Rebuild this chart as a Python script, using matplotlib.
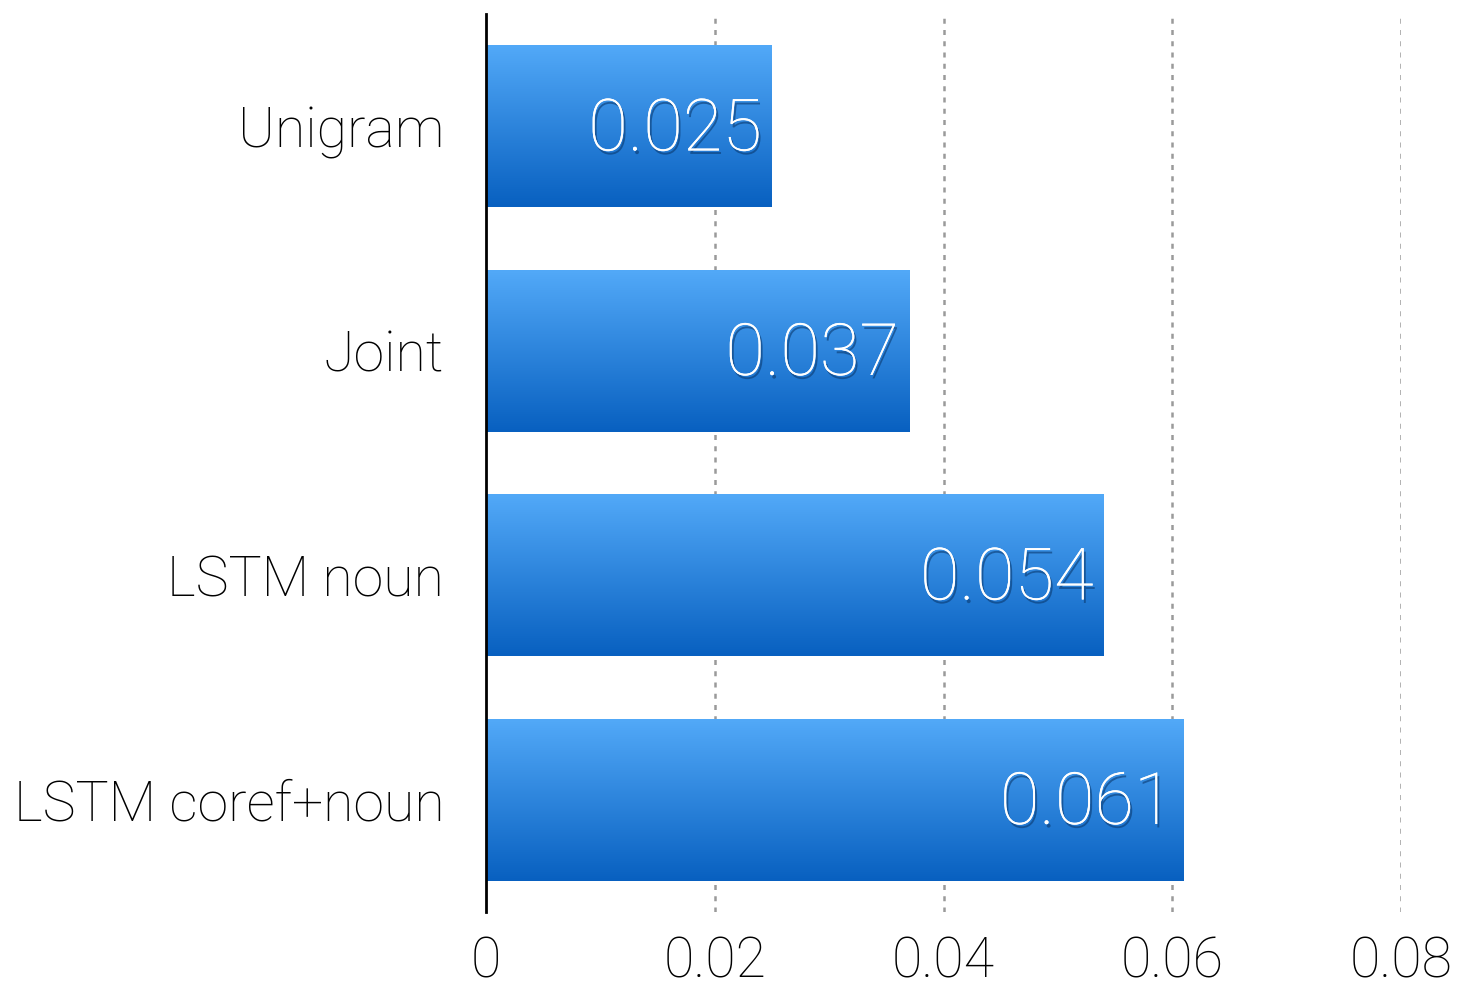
import matplotlib.pyplot as plt
import matplotlib.patheffects as pe
import numpy as np
from matplotlib.colors import LinearSegmentedColormap

models = ["Unigram", "Joint", "LSTM noun", "LSTM coref+noun"]
scores = [0.025, 0.037, 0.054, 0.061]
labels = ["0.025", "0.037", "0.054", "0.061"]
xticks = [0, 0.02, 0.04, 0.06, 0.08]
xticklabels = ["0", "0.02", "0.04", "0.06", "0.08"]

plt.rcParams["font.family"] = ["Roboto", "DejaVu Sans"]
plt.rcParams["font.weight"] = "light"

fig = plt.figure(figsize = (14.62, 9.93), dpi = 100)
ax = fig.add_axes([486 / 1462, 81 / 993, 915 / 1462, 898 / 993])

ypos = np.arange(len(models))
bars = ax.barh(ypos, scores, height = 0.72, color = "none", edgecolor = "none", zorder = 3)

# vertical blue gradient inside each bar
grad = np.linspace(0, 1, 256).reshape(-1, 1)
cmap = LinearSegmentedColormap.from_list("bar", ["#52a9f8", "#0860c0"])
for b in bars:
    x0, y0 = b.get_x(), b.get_y()
    w, h = b.get_width(), b.get_height()
    im = ax.imshow(grad, cmap = cmap, aspect = "auto", extent = (x0, x0 + w, y0 + h, y0),
                   zorder = 3, interpolation = "bilinear")
    im.set_clip_path(b)

for y, s, lab in zip(ypos, scores, labels):
    ax.text(s - 0.0009, y + 0.02, lab, ha = "right", va = "center", color = "white",
            fontsize = 52, zorder = 5,
            path_effects = [pe.withSimplePatchShadow(offset = (1.5, -2.5), shadow_rgbFace = "#0a3a70", alpha = 0.6),
                            pe.Normal()])

ax.set_xlim(0, 0.08)
ax.set_ylim(3.5, -0.5)
ax.set_xticks(xticks)
ax.set_xticklabels(xticklabels, fontsize = 40)
ax.set_yticks(ypos)
ax.set_yticklabels(models, fontsize = 40)
ax.tick_params(axis = "both", length = 0)
ax.tick_params(axis = "x", pad = 17)
ax.tick_params(axis = "y", pad = 30)

for t in xticks[1:]:
    ax.axvline(t, color = "#9a9a9a", linestyle = (0, (2, 2.5)), linewidth = 1.8, zorder = 1)

for side in ["top", "right", "bottom"]:
    ax.spines[side].set_visible(False)
ax.spines["left"].set_linewidth(2)
ax.spines["left"].set_zorder(6)

plt.savefig("out.png", dpi = 100)
